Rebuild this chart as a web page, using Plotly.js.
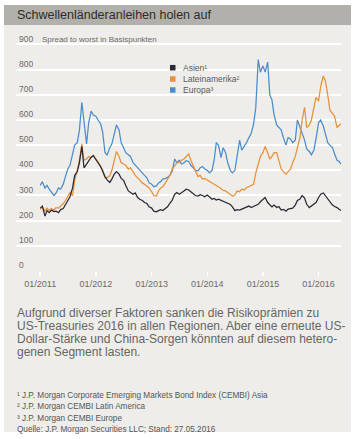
<!DOCTYPE html>
<html><head><meta charset="utf-8">
<script src="https://cdn.plot.ly/plotly-3.0.1.min.js"></script>
<style>html,body{margin:0;padding:0;background:#fff;}#chart{width:356px;height:439px;}</style>
</head><body><div id="chart"></div>
<script>
const dates = [
'2011-01-01','2011-01-15','2011-02-01','2011-02-15','2011-03-01','2011-03-15','2011-04-01','2011-04-15','2011-05-01','2011-05-15','2011-06-01','2011-06-15',
'2011-07-01','2011-07-15','2011-08-01','2011-08-15','2011-09-01','2011-09-15','2011-10-01','2011-10-15','2011-11-01','2011-11-15','2011-12-01','2011-12-15',
'2012-01-01','2012-01-15','2012-02-01','2012-02-15','2012-03-01','2012-03-15','2012-04-01','2012-04-15','2012-05-01','2012-05-15','2012-06-01','2012-06-15',
'2012-07-01','2012-07-15','2012-08-01','2012-08-15','2012-09-01','2012-09-15','2012-10-01','2012-10-15','2012-11-01','2012-11-15','2012-12-01','2012-12-15',
'2013-01-01','2013-01-15','2013-02-01','2013-02-15','2013-03-01','2013-03-15','2013-04-01','2013-04-15','2013-05-01','2013-05-15','2013-06-01','2013-06-15',
'2013-07-01','2013-07-15','2013-08-01','2013-08-15','2013-09-01','2013-09-15','2013-10-01','2013-10-15','2013-11-01','2013-11-15','2013-12-01','2013-12-15',
'2014-01-01','2014-01-15','2014-02-01','2014-02-15','2014-03-01','2014-03-15','2014-04-01','2014-04-15','2014-05-01','2014-05-15','2014-06-01','2014-06-15',
'2014-07-01','2014-07-15','2014-08-01','2014-08-15','2014-09-01','2014-09-15','2014-10-01','2014-10-15','2014-11-01','2014-11-15','2014-12-01','2014-12-15',
'2015-01-01','2015-01-15','2015-02-01','2015-02-15','2015-03-01','2015-03-15','2015-04-01','2015-04-15','2015-05-01','2015-05-15','2015-06-01','2015-06-15',
'2015-07-01','2015-07-15','2015-08-01','2015-08-15','2015-09-01','2015-09-15','2015-10-01','2015-10-15','2015-11-01','2015-11-15','2015-12-01','2015-12-15',
'2016-01-01','2016-01-15','2016-02-01','2016-02-15','2016-03-01','2016-03-15','2016-04-01','2016-04-15','2016-05-01','2016-05-15','2016-05-27'];

const asien = [
250,258,218,240,232,242,236,238,232,244,248,262,
282,295,330,380,395,430,495,410,425,440,452,458,
440,430,415,395,375,362,352,365,385,395,385,368,
360,340,318,312,305,310,292,285,280,272,268,255,
250,238,235,240,244,240,250,255,270,280,305,312,
305,310,318,325,322,315,305,300,298,303,300,295,
302,295,285,288,282,285,280,276,270,266,264,255,
240,244,242,246,250,252,258,252,256,262,265,275,
285,292,272,265,255,262,252,256,242,245,238,246,
248,250,262,280,286,300,290,265,252,258,268,272,
292,305,310,298,285,272,262,256,252,245,240];

const lateinamerika = [
245,255,238,250,240,248,242,252,250,258,268,280,
300,312,300,360,400,440,505,440,445,455,450,460,
445,435,415,400,370,372,378,400,440,475,455,430,
425,420,405,410,395,380,370,360,350,345,335,330,
315,300,298,318,330,335,350,362,380,405,420,430,
432,440,445,455,465,440,418,395,375,380,365,368,
362,355,352,345,340,335,328,320,318,312,305,298,
302,318,315,325,322,332,335,340,345,390,420,455,
470,495,470,445,455,470,470,440,405,395,385,395,
405,430,455,490,530,600,650,570,580,600,650,690,
675,735,775,755,700,640,625,615,570,580,585];

const europa = [
340,355,330,340,325,315,300,310,330,325,345,375,
405,420,460,500,510,560,670,600,505,590,635,620,
615,600,585,550,470,460,490,505,540,580,560,510,
490,470,462,455,430,420,410,398,390,380,370,350,
345,335,338,350,355,365,368,372,380,395,445,430,
440,425,430,438,435,420,410,400,398,410,415,405,
400,390,400,440,510,500,450,490,470,430,400,390,
400,460,520,480,495,510,530,545,585,650,840,790,
815,790,830,700,680,620,580,570,560,530,500,530,
525,510,520,600,570,550,520,485,475,462,480,525,
590,600,575,545,510,500,490,465,440,435,425];

const seriesNames = ['Asien\u00b9', 'Lateinamerika\u00b2', 'Europa\u00b3'];
const seriesValues = [asien, lateinamerika, europa];
const seriesColors = ['#2a2937', '#e8903a', '#4a8dcc'];

const yTickVals = [0,100,200,300,400,500,600,700,800,900];
const xTickVals = ['2011-01-01','2012-01-01','2013-01-01','2014-01-01','2015-01-01','2016-01-01'];
const xTickText = ['01/2011','01/2012','01/2013','01/2014','01/2015','01/2016'];

const chartTitle = 'Schwellenländeranleihen holen auf';
const axisTitle = 'Spread to worst in Basispunkten';
const bodyLines = [
 'Aufgrund diverser Faktoren sanken die Risikoprämien zu',
 'US-Treasuries 2016 in allen Regionen. Aber eine erneute US-',
 'Dollar-Stärke und China-Sorgen könnten auf diesem hetero-',
 'genen Segment lasten.'];
const footLines = [
 '\u00b9 J.P. Morgan Corporate Emerging Markets Bond Index (CEMBI) Asia',
 '\u00b2 J.P. Morgan CEMBI Latin America',
 '\u00b3 J.P. Morgan CEMBI Europe',
 'Quelle: J.P. Morgan Securities LLC; Stand: 27.05.2016'];

// layout geometry (pixels)
const W = 356, H = 439;
const L = 16, R = 341, T = 30, B = 271;
const PX_PER_UNIT = 0.2517;
const Y_TOP = (B - T) / PX_PER_UNIT;
const px = x => (x - L) / (R - L);
const py = y => (B - y) / (B - T);
const FONT = 'Liberation Sans, Arial, sans-serif';
const CARD = '#eeede9';

// draw order: Europa, Lateinamerika, Asien (Asien on top)
const traces = [2,1,0].map(i => ({
  type: 'scatter', mode: 'lines', x: dates, y: seriesValues[i], name: seriesNames[i],
  line: {color: seriesColors[i], width: 1.25}, showlegend: false, hoverinfo: 'skip'
}));

const shapes = [
  {type:'rect', xref:'paper', yref:'paper', x0:px(4), x1:px(351), y0:py(432), y1:py(5), fillcolor:CARD, line:{width:0}, layer:'below'},
  {type:'rect', xref:'paper', yref:'paper', x0:px(4), x1:px(351), y0:py(25), y1:py(5), fillcolor:'#b1b0aa', line:{width:0}, layer:'below'},
  {type:'rect', xref:'paper', yref:'paper', x0:px(157), x1:px(248), y0:py(97), y1:py(60), fillcolor:CARD, line:{width:0}, layer:'between'}
];
const annotations = [
  {text: chartTitle, xref:'paper', yref:'paper', x:px(15), y:py(15), xanchor:'left', yanchor:'middle', showarrow:false, font:{family:FONT, size:12.5, color:'#2c2c2c'}},
  {text: axisTitle, xref:'paper', yref:'paper', x:px(40), y:py(40), xanchor:'left', yanchor:'middle', showarrow:false, font:{family:FONT, size:8, color:'#6b6b6b'}}
];
const legendRows = [67.7, 79, 90];
seriesNames.forEach((n, i) => {
  shapes.push({type:'rect', xref:'paper', yref:'paper', x0:px(170), x1:px(175.5), y0:py(legendRows[i]+2.75), y1:py(legendRows[i]-2.75), fillcolor:seriesColors[i], line:{width:0}, layer:'above'});
  annotations.push({text:n, xref:'paper', yref:'paper', x:px(180.5), y:py(legendRows[i]), xanchor:'left', yanchor:'middle', showarrow:false, font:{family:FONT, size:8.5, color:'#5a5a5a'}});
});
const bodyY = [313, 326, 339, 351.5];
bodyLines.forEach((t, i) => annotations.push({text:t, xref:'paper', yref:'paper', x:px(15), y:py(bodyY[i]), xanchor:'left', yanchor:'middle', showarrow:false, font:{family:FONT, size:12.0, color:'#666666'}}));
const footY = [395, 406.7, 418.3, 430];
footLines.forEach((t, i) => annotations.push({text:t, xref:'paper', yref:'paper', x:px(15), y:py(footY[i]), xanchor:'left', yanchor:'middle', showarrow:false, font:{family:FONT, size:8.2, color:'#555555'}}));

const layout = {
  width: W, height: H,
  margin: {l: L, r: W - R, t: T, b: H - B, pad: 0},
  paper_bgcolor: '#ffffff', plot_bgcolor: 'rgba(0,0,0,0)',
  showlegend: false,
  xaxis: {type:'date', range:['2010-07-26','2016-05-27'], tickvals:xTickVals, ticktext:xTickText,
          ticks:'outside', ticklen:4, tickwidth:1.5, tickcolor:'#ffffff', showgrid:false, zeroline:false, showline:false,
          tickfont:{family:FONT, size:9, color:'#6b6b6b'}, fixedrange:true},
  yaxis: {range:[0, Y_TOP], tickvals:yTickVals, ticks:'', showgrid:true, gridcolor:'#ffffff', gridwidth:2,
          zeroline:false, showline:false, ticklabelposition:'inside top',
          tickfont:{family:FONT, size:8.5, color:'#6b6b6b'}, fixedrange:true},
  shapes: shapes, annotations: annotations
};
Plotly.newPlot('chart', traces, layout, {displayModeBar:false, staticPlot:true});
</script></body></html>
